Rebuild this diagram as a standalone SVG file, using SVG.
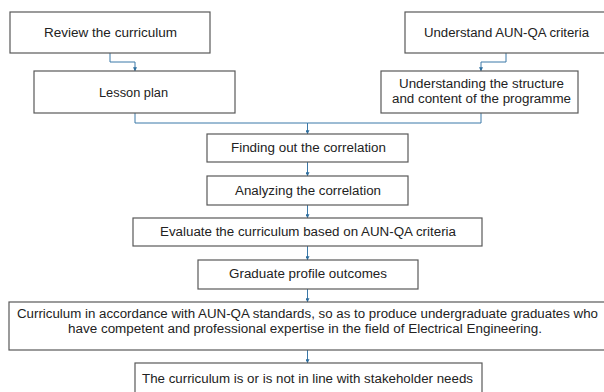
<svg xmlns="http://www.w3.org/2000/svg" width="604" height="392" viewBox="0 0 604 392">
  <defs>
    <style>
      .box { fill: #ffffff; stroke: #595959; stroke-width: 1.2; }
      .lbl { font-family: "Liberation Sans", Arial, sans-serif; font-size: 12.5px; fill: #222222; text-anchor: middle; }
      .conn { fill: none; stroke: #3a78a8; stroke-width: 1; }
    </style>
    <marker id="arr" viewBox="0 0 6 6" refX="5.5" refY="3" markerWidth="4" markerHeight="4" orient="auto" markerUnits="userSpaceOnUse">
      <path d="M0,0 L6,3 L0,6 Z" fill="#2e6e9e"/>
    </marker>
  </defs>
  <rect width="604" height="392" fill="#ffffff"/>

  <g id="connectors">
    <path class="conn" d="M110,53 V62 H135 V71" marker-end="url(#arr)"/>
    <path class="conn" d="M506,53 V62 H481 V71" marker-end="url(#arr)"/>
    <path class="conn" d="M135,113 V123 H307.5 V134" marker-end="url(#arr)"/>
    <path class="conn" d="M481,113 V123 H307.5"/>
    <path class="conn" d="M307.5,162 V176" marker-end="url(#arr)"/>
    <path class="conn" d="M307.5,205 V218" marker-end="url(#arr)"/>
    <path class="conn" d="M307.5,246 V260" marker-end="url(#arr)"/>
    <path class="conn" d="M307.5,289 V302" marker-end="url(#arr)"/>
    <path class="conn" d="M307.5,350 V363" marker-end="url(#arr)"/>
  </g>

  <g id="review">
    <rect class="box" x="10" y="12" width="200" height="41"/>
    <text class="lbl" x="110.5" y="37" textLength="133" lengthAdjust="spacingAndGlyphs">Review the curriculum</text>
  </g>
  <g id="understand">
    <rect class="box" x="405" y="12" width="202" height="41"/>
    <text class="lbl" x="506.5" y="37" textLength="165" lengthAdjust="spacingAndGlyphs">Understand AUN-QA criteria</text>
  </g>
  <g id="lesson">
    <rect class="box" x="34" y="71" width="201" height="42"/>
    <text class="lbl" x="133.5" y="97" textLength="69" lengthAdjust="spacingAndGlyphs">Lesson plan</text>
  </g>
  <g id="structure">
    <rect class="box" x="381" y="71" width="197" height="42"/>
    <text class="lbl" x="481.5" y="88" textLength="165" lengthAdjust="spacingAndGlyphs">Understanding the structure</text>
    <text class="lbl" x="481.5" y="103" textLength="179" lengthAdjust="spacingAndGlyphs">and content of the programme</text>
  </g>
  <g id="finding">
    <rect class="box" x="207" y="134" width="201" height="28"/>
    <text class="lbl" x="308.5" y="152" textLength="155" lengthAdjust="spacingAndGlyphs">Finding out the correlation</text>
  </g>
  <g id="analyzing">
    <rect class="box" x="207" y="176" width="201" height="29"/>
    <text class="lbl" x="308" y="195" textLength="146" lengthAdjust="spacingAndGlyphs">Analyzing the correlation</text>
  </g>
  <g id="evaluate">
    <rect class="box" x="133" y="218" width="349" height="28"/>
    <text class="lbl" x="308" y="236" textLength="296" lengthAdjust="spacingAndGlyphs">Evaluate the curriculum based on AUN-QA criteria</text>
  </g>
  <g id="graduate">
    <rect class="box" x="198" y="260" width="220" height="29"/>
    <text class="lbl" x="308" y="278" textLength="158" lengthAdjust="spacingAndGlyphs">Graduate profile outcomes</text>
  </g>
  <g id="curriculum">
    <rect class="box" x="9" y="302" width="598" height="48"/>
    <text class="lbl" x="307.5" y="318" textLength="581" lengthAdjust="spacingAndGlyphs">Curriculum in accordance with AUN-QA standards, so as to produce undergraduate graduates who</text>
    <text class="lbl" x="305" y="333" textLength="474" lengthAdjust="spacingAndGlyphs">have competent and professional expertise in the field of Electrical Engineering.</text>
  </g>
  <g id="stakeholder">
    <rect class="box" x="135" y="363" width="347" height="33"/>
    <text class="lbl" x="307.5" y="383" textLength="331" lengthAdjust="spacingAndGlyphs">The curriculum is or is not in line with stakeholder needs</text>
  </g>
</svg>
